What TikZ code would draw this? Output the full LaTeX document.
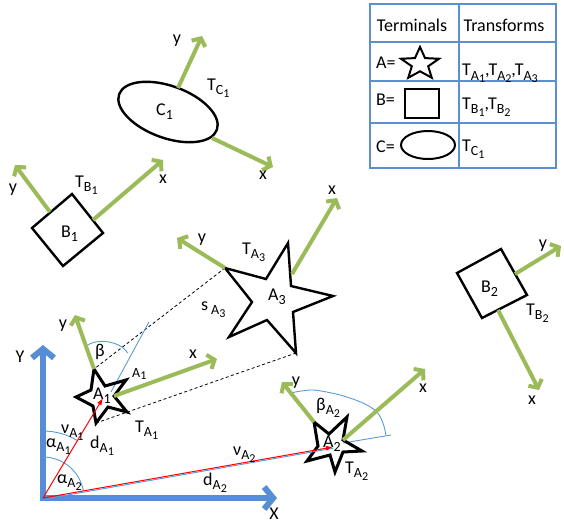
\documentclass[tikz,border=0pt]{standalone}
\usepackage{fontspec}
\setmainfont{Carlito}
\usetikzlibrary{arrows.meta}
\definecolor{gr}{HTML}{9BBB59}
\definecolor{axb}{HTML}{558ED5}
\definecolor{thb}{HTML}{5B9BD5}
\definecolor{tbl}{HTML}{5B8FD0}
\newcommand{\lowA}[1]{\raisebox{-4.5pt}{\fontsize{14}{14}\selectfont #1}}
\newcommand{\lowB}[1]{\raisebox{-2.5pt}{\fontsize{12}{12}\selectfont #1}}
\begin{document}
\begin{tikzpicture}[x=1pt,y=-1pt,
  lbl/.style={font=\fontsize{18}{20}\selectfont, inner sep=0pt},
  slbl/.style={font=\fontsize{14}{16}\selectfont, inner sep=0pt},
  gax/.style={draw=gr, line width=4pt, -{Straight Barb[length=6pt,width=15pt]}},
  bax/.style={draw=axb, line width=6pt, line join=miter,
     {Straight Barb[length=9pt,width=22pt]}-{Straight Barb[length=9pt,width=22pt]}},
  shp/.style={draw=black, line width=2.4pt, line join=miter},
  bshp/.style={draw=black, line width=3pt, line join=miter},
  tshp/.style={draw=black, line width=2pt, line join=miter},
  thinb/.style={draw=thb, line width=0.9pt},
  dsh/.style={draw=black, line width=0.8pt, dash pattern=on 3pt off 2.5pt},
  redv/.style={draw=red, line width=1pt, -{Latex[length=7pt,width=5pt]}},
  tline/.style={draw=tbl, line width=1.5pt}]
\useasboundingbox (0,0) rectangle (564,523);

% ---------- table ----------
\draw[tline] (370,4) rectangle (556,168);
\draw[tline] (459,4) -- (459,168);
\draw[tline] (370,42) -- (556,42);
\draw[tline] (370,81) -- (556,81);
\draw[tline] (370,123) -- (556,123);
\node[lbl,anchor=base] (hT) at (412,31) {Terminals};
\node[lbl,anchor=base] (hF) at (504,31) {Transforms};
\node[lbl,anchor=base west] (tA) at (376,68) {A=};
\node[lbl,anchor=base west] (tB) at (376,105) {B=};
\node[lbl,anchor=base west] (tC) at (376,152) {C=};
\draw[tshp] plot[variable=\k, samples at={0,...,9}]
  ({420+ifthenelse(isodd(\k),8.6,20)*sin(36*\k)},{64-ifthenelse(isodd(\k),7.3,17)*cos(36*\k)}) -- cycle;
\draw[tshp] (405,89) rectangle (439,118);
\draw[tshp] (428,145) ellipse [x radius=27, y radius=14];
\node[lbl,anchor=base west] (fA) at (462,75.5) {T\lowA{A\lowB{1}},T\lowA{A\lowB{2}},T\lowA{A\lowB{3}}};
\node[lbl,anchor=base west] (fB) at (462,109) {T\lowA{B\lowB{1}},T\lowA{B\lowB{2}}};
\node[lbl,anchor=base west] (fC) at (462,151) {T\lowA{C\lowB{1}}};

% ---------- C1 ----------
\coordinate (C1c) at (168,112);
\draw[shp, rotate around={-20:(C1c)}] (C1c) ellipse [x radius=52, y radius=26];
\coordinate (C1y0) at (178,88); \coordinate (C1y1) at (202,36);
\coordinate (C1x0) at (212,138); \coordinate (C1x1) at (273,167);
\draw[gax] (C1y0) -- (C1y1);
\draw[gax] (C1x0) -- (C1x1);
\node[lbl,anchor=base west] (C1l) at (156,115) {C\lowA{1}};
\node[lbl,anchor=base west] (C1t) at (207,90) {T\lowA{C\lowB{1}}};
\node[lbl] (C1yl) at (177,41) {y};
\node[lbl] (C1xl) at (263,175) {x};

% ---------- B1 ----------
\draw[shp] (72,194) -- (103,233) -- (63,266) -- (32,228) -- cycle;
\coordinate (B1y0) at (50,212); \coordinate (B1y1) at (15,165);
\coordinate (B1x0) at (93,220); \coordinate (B1x1) at (163,160);
\draw[gax] (B1y0) -- (B1y1);
\draw[gax] (B1x0) -- (B1x1);
\node[lbl,anchor=base west] (B1l) at (61,237) {B\lowA{1}};
\node[lbl,anchor=base west] (B1t) at (75,187) {T\lowA{B\lowB{1}}};
\node[lbl] (B1yl) at (13,190) {y};
\node[lbl] (B1xl) at (163,179) {x};

% ---------- B2 ----------
\draw[shp] (501,249) -- (527,295) -- (482,318) -- (457,273) -- cycle;
\coordinate (B2y0) at (515,274); \coordinate (B2y1) at (561,246);
\coordinate (B2x0) at (498,310); \coordinate (B2x1) at (539,390);
\draw[gax] (B2y0) -- (B2y1);
\draw[gax] (B2x0) -- (B2x1);
\node[lbl,anchor=base west] (B2l) at (481,292) {B\lowA{2}};
\node[lbl,anchor=base west] (B2t) at (526,315) {T\lowA{B\lowB{2}}};
\node[lbl] (B2yl) at (543,246) {y};
\node[lbl] (B2xl) at (532,400) {x};

% ---------- dashed projection ----------
\coordinate (A3p) at (225,268); \coordinate (A3b) at (296,353);
\coordinate (A1p) at (94,369); \coordinate (A1b) at (96,423);
\draw[dsh] (A3p) -- (A1p);
\draw[dsh] (A1b) -- (A3b);

% ---------- A3 ----------
\draw[shp] (A3p) -- (266,279) -- (288,243) -- (291,286) -- (333,296) -- (293,312)
  -- (A3b) -- (267,320) -- (229,337) -- (252,302) -- cycle;
\coordinate (A3y1) at (177,238);
\coordinate (A3x0) at (292,274); \coordinate (A3x1) at (337,198);
\draw[gax] (A3p) -- (A3y1);
\draw[gax] (A3x0) -- (A3x1);
\node[lbl,anchor=base west] (A3l) at (268,300) {A\lowA{3}};
\node[lbl,anchor=base west] (A3t) at (242,254) {T\lowA{A\lowB{3}}};
\node[lbl] (A3yl) at (202,240) {y};
\node[lbl] (A3xl) at (332,190) {x};
\node[lbl,anchor=base west] (sA3) at (201,310) {s\,\lowA{A\lowB{3}}};

% ---------- A1 ----------
\coordinate (b1s) at (111,392); \coordinate (b1e) at (149,322);
\draw[thinb] (b1s) -- (b1e);
\draw[thinb] plot[smooth] coordinates {(86.5,345.5) (93,342.6) (100,341.4) (107,341.6) (115,343.6) (122,347) (128,353)};
\draw[bshp] (A1p) -- (105,386) -- (126,380) -- (114,396) -- (127,412) -- (108,407)
  -- (A1b) -- (93,406) -- (76,397) -- (91,390) -- cycle;
\coordinate (A1y1) at (75,315);
\coordinate (A1x0) at (114,396); \coordinate (A1x1) at (217,359);
\draw[gax] (A1p) -- (A1y1);
\draw[gax] (A1x0) -- (A1x1);
\node[lbl,anchor=base west] (A1l) at (93,399) {A\lowA{1}};
\node[slbl,anchor=base west] (A1o) at (132,377) {A\lowB{1}};
\node[lbl,anchor=base west] (A1t) at (135,432) {T\lowA{A\lowB{1}}};
\node[lbl] (A1yl) at (63,326) {y};
\node[lbl] (A1xl) at (193,354) {x};
\node[lbl] (beta1) at (100,352) {β};

% ---------- A2 ----------
\coordinate (b2s) at (343,443); \coordinate (b2e) at (391,435);
\draw[thinb] (b2s) -- (b2e);
\draw[thinb] plot[smooth] coordinates {(291.7,392.7) (313,390) (340,395) (363,403) (376.7,411.7) (383,423) (386,435)};
\coordinate (A2p) at (314,422);
\draw[bshp] (A2p) -- (329,434) -- (347,417) -- (343,440) -- (362,451) -- (343,452)
  -- (335,472) -- (330,455) -- (307,461) -- (318,446) -- cycle;
\coordinate (A2y1) at (282,382);
\coordinate (A2x0) at (343,440); \coordinate (A2x1) at (425,369);
\draw[gax] (A2p) -- (A2y1);
\draw[gax] (A2x0) -- (A2x1);
\node[lbl,anchor=base west] (A2l) at (323,447) {A\lowA{2}};
\node[lbl,anchor=base west] (A2t) at (345,473) {T\lowA{A\lowB{2}}};
\node[lbl] (A2yl) at (296,383) {y};
\node[lbl] (A2xl) at (423,388) {x};
\node[lbl,anchor=base west] (beta2) at (316,410) {β\lowA{A\lowB{2}}};

% ---------- world axes ----------
\coordinate (O) at (43,498);
\coordinate (Ytip) at (43,345); \coordinate (Xtip) at (277,498);
\draw[bax] (Ytip) -- (O) -- (Xtip);
\node[lbl] (Yl) at (20,357) {Y};
\node[lbl] (Xl) at (274,514) {X};
\draw[thinb] (O) ++(-90:67) arc[start angle=-90, end angle=-59, radius=67];
\draw[thinb] (O) ++(-90:41) arc[start angle=-90, end angle=-10, radius=41];
\coordinate (A1c) at (103,398); \coordinate (A2c) at (333,447);
\coordinate (Ob) at (43,499.3); \coordinate (A2cb) at (333,448.3);
\draw[thinb] (Ob) -- (A2cb);
\draw[redv] (O) -- (A1c);
\draw[redv] (O) -- (A2c);
\node[lbl,anchor=base west] (vA1) at (61,433) {ν\lowA{A\lowB{1}}};
\node[lbl,anchor=base west] (dA1) at (90,448) {d\lowA{A\lowB{1}}};
\node[lbl,anchor=base west] (aA1) at (46,447) {α\lowA{A\lowB{1}}};
\node[lbl,anchor=base west] (aA2) at (57,483) {α\lowA{A\lowB{2}}};
\node[lbl,anchor=base west] (vA2) at (233,455) {ν\lowA{A\lowB{2}}};
\node[lbl,anchor=base west] (dA2) at (203,485) {d\lowA{A\lowB{2}}};
\end{tikzpicture}
\end{document}
